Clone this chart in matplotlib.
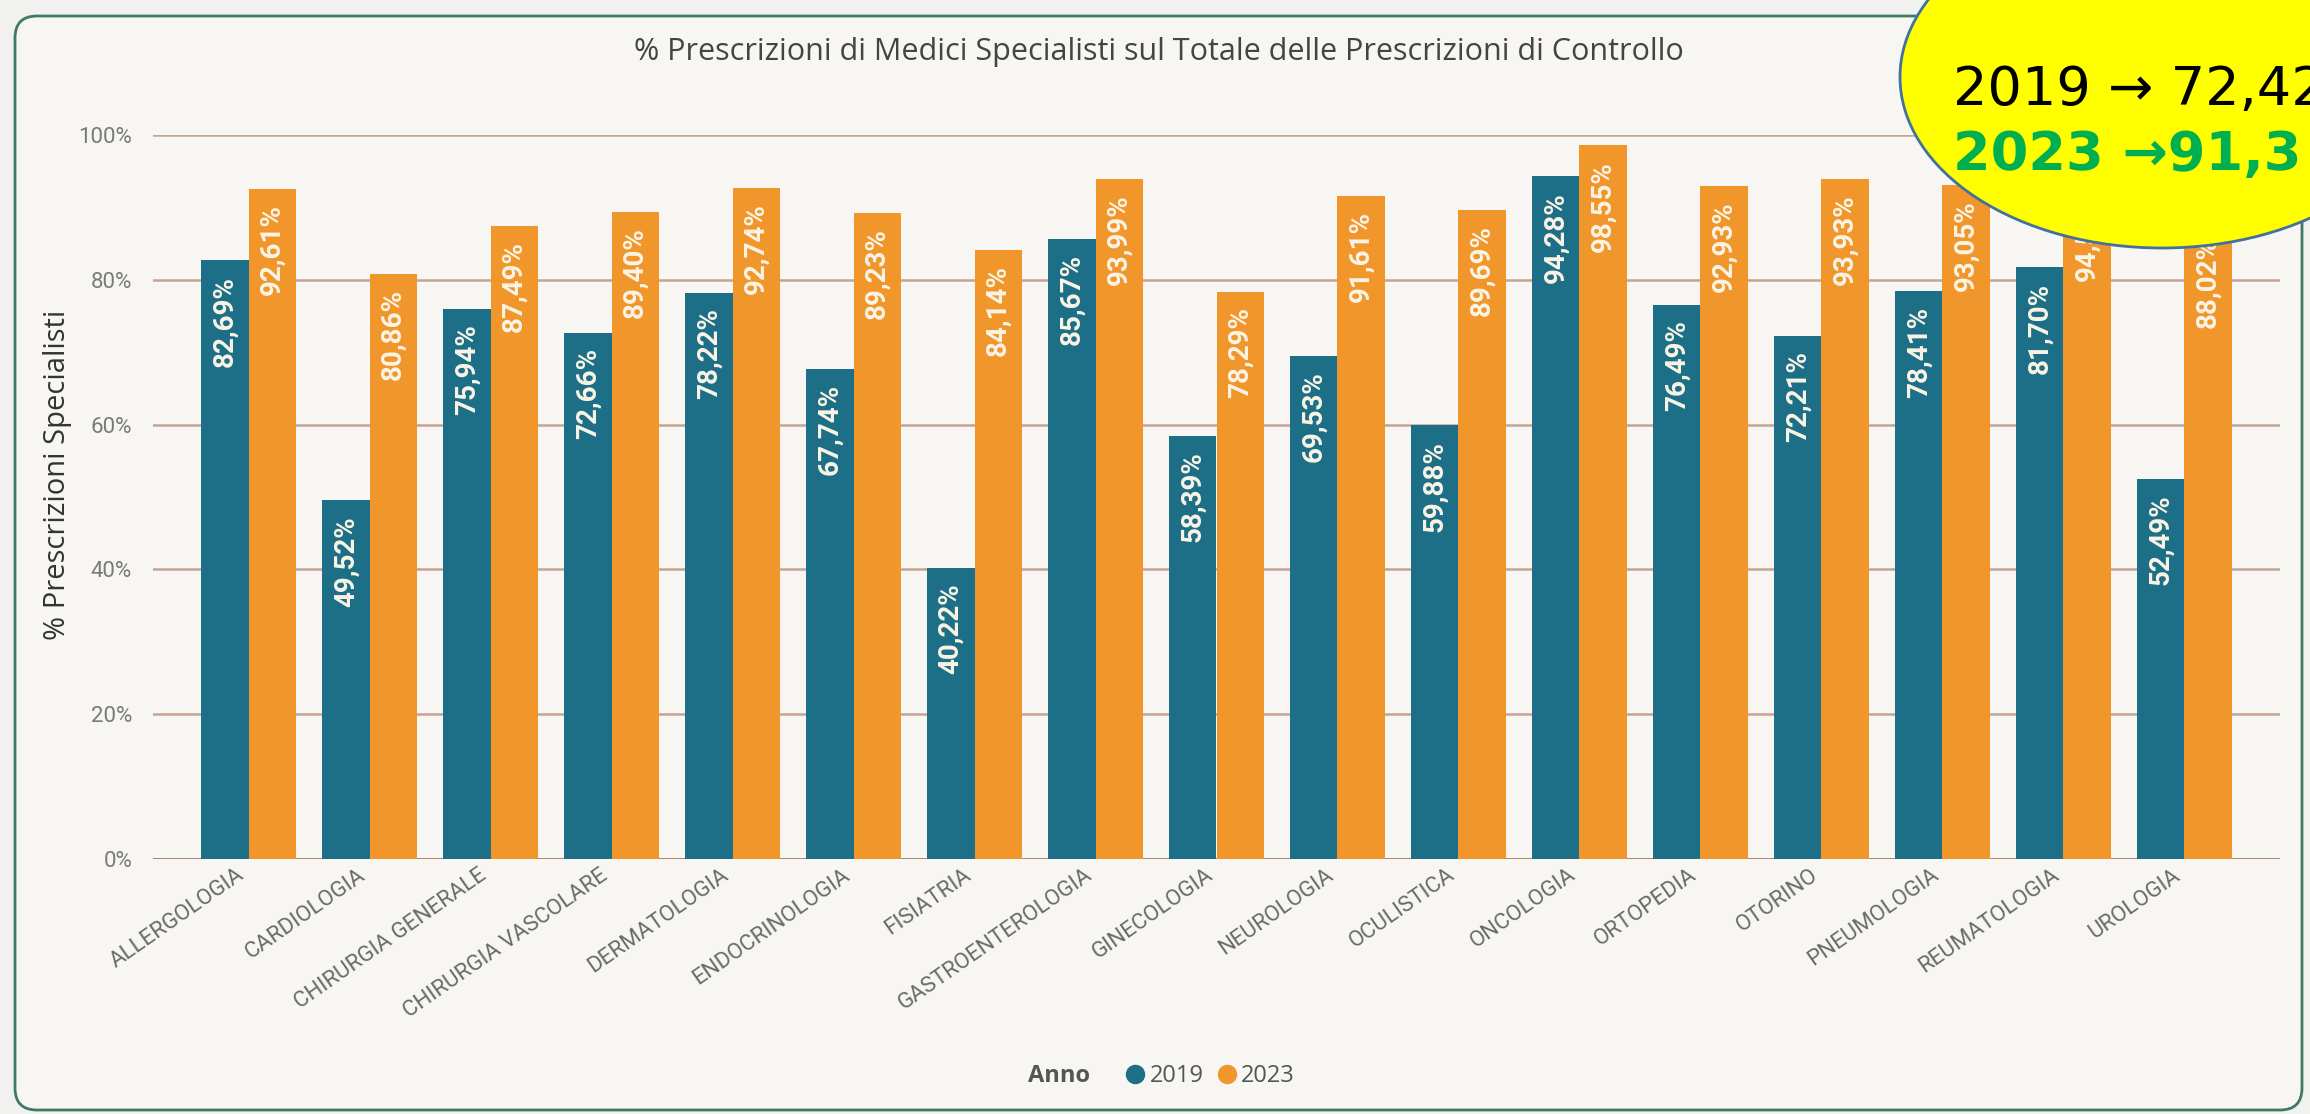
import numpy as np
import matplotlib.pyplot as plt
from matplotlib.patches import FancyBboxPatch, Ellipse
from matplotlib.lines import Line2D
from matplotlib.transforms import ScaledTranslation

plt.rcParams.update({'font.family': 'Roboto'})

categories = ["ALLERGOLOGIA", "CARDIOLOGIA", "CHIRURGIA GENERALE",
              "CHIRURGIA VASCOLARE", "DERMATOLOGIA", "ENDOCRINOLOGIA",
              "FISIATRIA", "GASTROENTEROLOGIA", "GINECOLOGIA", "NEUROLOGIA",
              "OCULISTICA", "ONCOLOGIA", "ORTOPEDIA", "OTORINO",
              "PNEUMOLOGIA", "REUMATOLOGIA", "UROLOGIA"]
val_2019 = [82.69, 49.52, 75.94, 72.66, 78.22, 67.74, 40.22, 85.67, 58.39,
            69.53, 59.88, 94.28, 76.49, 72.21, 78.41, 81.70, 52.49]
val_2023 = [92.61, 80.86, 87.49, 89.40, 92.74, 89.23, 84.14, 93.99, 78.29,
            91.61, 89.69, 98.55, 92.93, 93.93, 93.05, 94.50, 88.02]
yticks = [0, 20, 40, 60, 80, 100]
title = "% Prescrizioni di Medici Specialisti sul Totale delle Prescrizioni di Controllo"
note_2019 = "2019 \u2192 72,42"
note_2023 = "2023 \u219291,3"

c19 = '#1c6f86'
c23 = '#f0962a'
bg = '#f7f6f2'
W, H = 2310, 1114

fig = plt.figure(figsize=(W / 100, H / 100), dpi=100, facecolor='#f1f2f0')

# background card (pixel coordinates)
axbg = fig.add_axes([0, 0, 1, 1])
axbg.set_xlim(0, W)
axbg.set_ylim(H, 0)
axbg.axis('off')
axbg.add_patch(FancyBboxPatch((15, 16), 2287, 1094,
                              boxstyle='round,pad=0,rounding_size=22',
                              facecolor=bg, edgecolor='#3f7a68', lw=2))

# main chart
ax = fig.add_axes([153 / W, 1 - 859 / H, (2280 - 153) / W, (859 - 135) / H])
ax.set_facecolor('none')
x = np.arange(len(categories))
bw = 0.39
b1 = ax.bar(x - bw / 2, val_2019, bw, color=c19, zorder=3)
b2 = ax.bar(x + bw / 2, val_2023, bw, color=c23, zorder=3)

for bars, vals in [(b1, val_2019), (b2, val_2023)]:
    for rect, v in zip(bars, vals):
        ax.annotate(f"{v:.2f}%".replace('.', ','),
                    (rect.get_x() + rect.get_width() / 2, v),
                    xytext=(0, -11), textcoords='offset points',
                    rotation=90, ha='center', va='top',
                    color='#faf4e6', fontsize=20, fontweight='bold', zorder=4)

ax.set_xlim(-0.79, len(categories) - 1 + 0.79)
ax.set_ylim(0, 100)
ax.set_yticks(yticks)
ax.set_yticklabels([f"{t}%" for t in yticks])
ax.yaxis.grid(True, color='#c4a593', lw=1.8, zorder=0)
ax.axhline(0, color='#a7755c', lw=1.8, zorder=2)
ax.tick_params(axis='y', length=0, pad=15, labelsize=16, labelcolor='#7a7a7a')
ax.tick_params(axis='x', length=0, pad=4)
ax.set_xticks(x)
ax.set_xticklabels(categories, rotation=35, ha='right', va='top',
                   rotation_mode='anchor', fontsize=16, color='#6a6a6a')
shift = ScaledTranslation(-0.12, 0, fig.dpi_scale_trans)
for lab in ax.get_xticklabels():
    lab.set_transform(lab.get_transform() + shift)
for s in ax.spines.values():
    s.set_visible(False)
ax.set_ylabel("% Prescrizioni Specialisti", family='Open Sans', fontsize=21,
              color='#333333')
ax.yaxis.set_label_coords(-0.038, 0.53)

fig.text(1159 / W, 1 - 52 / H, title, family='Open Sans', fontsize=22,
         color='#444444', ha='center', va='center')

# legend
fig.text(1090 / W, 1 - 1076 / H, "Anno", family='Open Sans', fontsize=17,
         fontweight='bold', color='#555555', ha='right', va='center')
handles = [Line2D([], [], marker='o', ls='', color=c19, markersize=13, label='2019'),
           Line2D([], [], marker='o', ls='', color=c23, markersize=13, label='2023')]
leg = fig.legend(handles=handles, loc='center left', ncols=2,
                 bbox_to_anchor=(1100 / W, 1 - 1076 / H), frameon=False,
                 handletextpad=0.0, columnspacing=0.4, handlelength=1.2,
                 prop={'family': 'Open Sans', 'size': 17})
for t in leg.get_texts():
    t.set_color('#555555')

# callout ellipse (its text runs off the right edge, as in the original)
axov = fig.add_axes([0, 0, 1, 1], zorder=10)
axov.set_xlim(0, W)
axov.set_ylim(H, 0)
axov.axis('off')
axov.add_patch(Ellipse((2162, 77), 524, 342, facecolor='#ffff00',
                       edgecolor='#41719c', lw=2))
axov.text(1953, 105, note_2019, family='DejaVu Sans', fontsize=39,
          color='black', va='baseline', ha='left')
axov.text(1953, 170, note_2023, family='DejaVu Sans', fontsize=39,
          fontweight='bold', color='#00b050', va='baseline', ha='left')

fig.savefig('out.png', dpi=100, facecolor=fig.get_facecolor())
